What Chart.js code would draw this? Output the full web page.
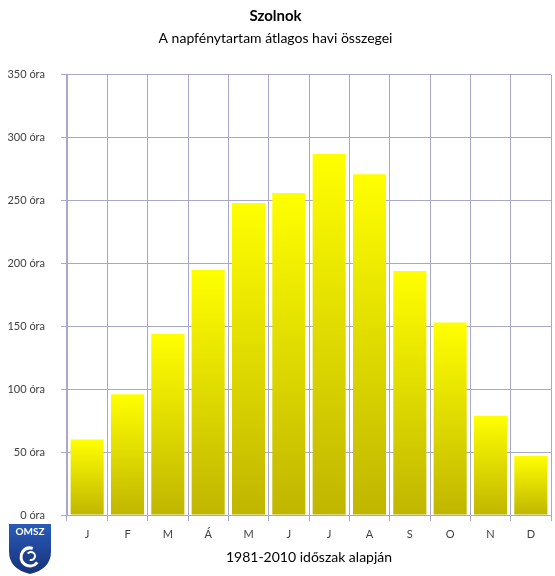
<!DOCTYPE html>
<html>
<head>
<meta charset="utf-8">
<script src="https://cdn.jsdelivr.net/npm/chart.js@4"></script>
<style>
  html, body { margin: 0; padding: 0; background: #fff; }
  #wrap { width: 555px; height: 576px; }
</style>
</head>
<body>
<div id="wrap"><canvas id="chart"></canvas></div>
<script>
// havi napfénytartam (óra), Szolnok, 1981-2010
const months = ['J', 'F', 'M', 'Á', 'M', 'J', 'J', 'A', 'S', 'O', 'N', 'D'];
const sunHours = [60, 96, 144, 195, 248, 256, 287, 271, 194, 153, 79, 47];
const yTicks = [0, 50, 100, 150, 200, 250, 300, 350];

const FONT = 'Lato, "Open Sans", sans-serif';
const gridColor = '#a8a8cc';

// sárga színátmenet oszloponként (fent élénk, lent sötétebb)
function barGradient(ctx) {
  const chart = ctx.chart;
  const area = chart.chartArea;
  if (!area || ctx.type !== 'data') return '#f0f000';
  const y = chart.scales.y;
  const top = y.getPixelForValue(ctx.raw);
  const bottom = y.getPixelForValue(0);
  const g = chart.ctx.createLinearGradient(0, top, 0, bottom);
  g.addColorStop(0, '#ffff00');
  g.addColorStop(1, '#c0b600');
  return g;
}

// OMSZ logo a bal alsó sarokban
const logoPlugin = {
  id: 'omszLogo',
  afterDraw(chart) {
    const c = chart.ctx;
    const x = 9, y = 524, w = 42, h = 50;
    c.save();
    c.beginPath();
    c.moveTo(x, y);
    c.lineTo(x + w, y);
    c.lineTo(x + w, y + h * 0.55);
    c.quadraticCurveTo(x + w, y + h * 0.9, x + w / 2, y + h);
    c.quadraticCurveTo(x, y + h * 0.9, x, y + h * 0.55);
    c.closePath();
    const g = c.createLinearGradient(0, y, 0, y + h);
    g.addColorStop(0, '#2a5bb8');
    g.addColorStop(1, '#16327a');
    c.fillStyle = g;
    c.fill();
    c.fillStyle = '#ffffff';
    c.font = 'bold 10px ' + FONT;
    c.textAlign = 'center';
    c.textBaseline = 'top';
    c.fillText('OMSZ', x + w / 2, y + 3);
    c.strokeStyle = '#ffffff';
    c.lineWidth = 3;
    c.beginPath();
    c.arc(x + w / 2, y + 33, 9, Math.PI * 0.2, Math.PI * 1.6);
    c.stroke();
    c.lineWidth = 2;
    c.beginPath();
    c.arc(x + w / 2 + 1, y + 32, 4, Math.PI * 1.2, Math.PI * 2.6);
    c.stroke();
    c.restore();
  }
};

new Chart(document.getElementById('chart'), {
  type: 'bar',
  data: {
    labels: months,
    datasets: [{
      data: sunHours,
      backgroundColor: barGradient,
      borderWidth: 0,
      barPercentage: 0.82,
      categoryPercentage: 1.0
    }]
  },
  plugins: [logoPlugin],
  options: {
    responsive: true,
    maintainAspectRatio: false,
    animation: false,
    layout: { padding: { left: 0, right: 4, top: 4, bottom: 10 } },
    plugins: {
      legend: { display: false },
      tooltip: { enabled: false },
      title: {
        display: true,
        text: 'Szolnok',
        color: '#000',
        font: { family: FONT, size: 15, weight: 'bold' },
        padding: { top: 3, bottom: 4 }
      },
      subtitle: {
        display: true,
        text: 'A napfénytartam átlagos havi összegei',
        color: '#000',
        font: { family: FONT, size: 14 },
        padding: { top: 1, bottom: 28 }
      }
    },
    scales: {
      x: {
        grid: {
          offset: true,
          color: gridColor,
          tickLength: 6,
          drawTicks: true
        },
        border: { color: gridColor },
        ticks: {
          color: '#404040',
          font: { family: FONT, size: 11 },
          padding: 7
        },
        title: {
          display: true,
          text: '1981-2010 időszak alapján',
          color: '#000',
          font: { family: FONT, size: 14 },
          padding: { top: 1, bottom: 0 }
        }
      },
      y: {
        min: 0,
        max: 350,
        afterFit(scale) { scale.width = 67; },
        afterBuildTicks(scale) { scale.ticks = yTicks.map(v => ({ value: v })); },
        grid: { color: gridColor, tickLength: 6 },
        border: { color: gridColor },
        ticks: {
          color: '#404040',
          font: { family: FONT, size: 11 },
          padding: 16,
          callback: v => v + ' óra'
        }
      }
    }
  }
});
</script>
</body>
</html>
